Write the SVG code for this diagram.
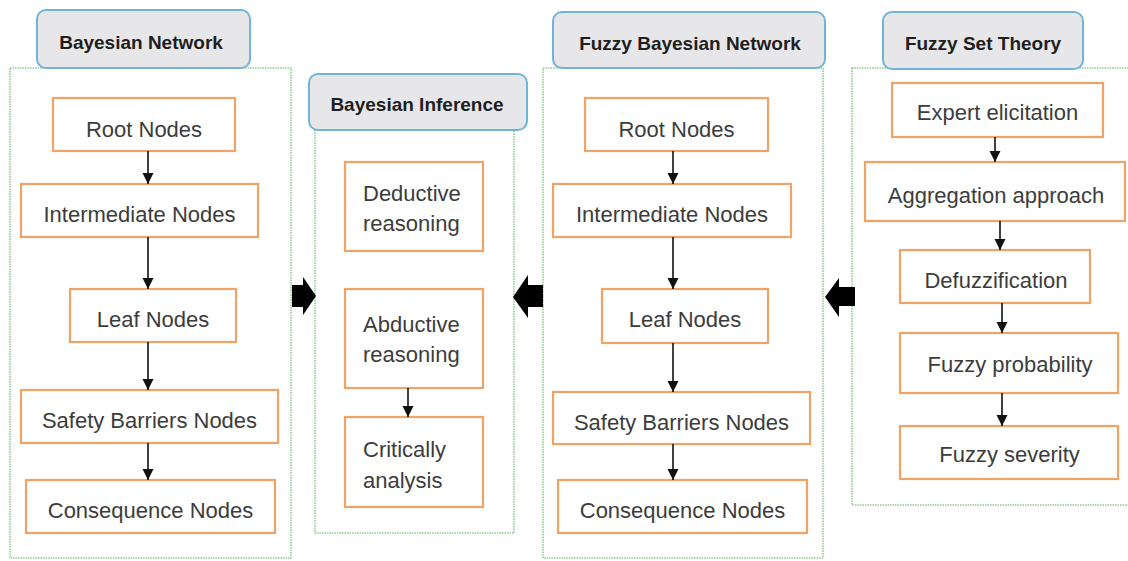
<svg xmlns="http://www.w3.org/2000/svg" width="1128" height="561" viewBox="0 0 1128 561">
<defs>
<style>
.panel{fill:none;stroke:#8fcc8f;stroke-width:1.6;stroke-dasharray:1.5 1}
.hdr{fill:#e7e7e9;stroke:#72b4d8;stroke-width:2}
.ht{font-family:"Liberation Sans",Arial,sans-serif;font-weight:bold;font-size:19px;fill:#1e1e1e;text-anchor:middle}
.node{fill:#ffffff;stroke:#f1a366;stroke-width:2.2}
.nt{font-family:"Liberation Sans",Arial,sans-serif;font-size:22px;fill:#3c3c3c;text-anchor:middle}
.lt{font-family:"Liberation Sans",Arial,sans-serif;font-size:22px;fill:#3c3c3c}
.edge{stroke:#111;stroke-width:1.6;fill:none;marker-end:url(#ah)}
.big{fill:#000}
</style>
<marker id="ah" viewBox="0 0 10 10" refX="10" refY="5" markerWidth="11" markerHeight="12" markerUnits="userSpaceOnUse" orient="auto">
<path d="M0,0 L10,5 L0,10 z" fill="#111"/>
</marker>
</defs>
<rect width="1128" height="561" fill="#ffffff"/>

<g id="panel-bn">
<rect class="panel" x="10" y="68" width="281" height="490"/>
<rect class="hdr" x="37" y="10" width="213" height="58" rx="9"/>
<text class="ht" x="141" y="49">Bayesian Network</text>
</g>
<g id="panel-bi">
<rect class="panel" x="315" y="130" width="199" height="403"/>
<rect class="hdr" x="309" y="74" width="218" height="56" rx="9"/>
<text class="ht" x="417" y="111">Bayesian Inference</text>
</g>
<g id="panel-fbn">
<rect class="panel" x="543" y="68" width="280" height="490"/>
<rect class="hdr" x="553" y="12" width="272" height="56" rx="9"/>
<text class="ht" x="690" y="50">Fuzzy Bayesian Network</text>
</g>
<g id="panel-fst">
<rect class="panel" x="852" y="68" width="290" height="437"/>
<rect class="hdr" x="883" y="12" width="200" height="57" rx="9"/>
<text class="ht" x="983" y="50">Fuzzy Set Theory</text>
</g>

<g id="bn-root"><rect class="node" x="53" y="98" width="182" height="53"/><text class="nt" x="144" y="137">Root Nodes</text></g>
<g id="bn-intermediate"><rect class="node" x="21" y="184" width="237" height="53"/><text class="nt" x="139.5" y="222">Intermediate Nodes</text></g>
<g id="bn-leaf"><rect class="node" x="70" y="289" width="166" height="53"/><text class="nt" x="153" y="327">Leaf Nodes</text></g>
<g id="bn-safety"><rect class="node" x="21" y="390" width="257" height="53"/><text class="nt" x="149.5" y="428">Safety Barriers Nodes</text></g>
<g id="bn-consequence"><rect class="node" x="26" y="480" width="249" height="53"/><text class="nt" x="150.5" y="518">Consequence Nodes</text></g>

<g id="bi-deductive"><rect class="node" x="345" y="162" width="138" height="89"/><text class="lt" x="363" y="201">Deductive</text><text class="lt" x="363" y="231">reasoning</text></g>
<g id="bi-abductive"><rect class="node" x="345" y="289" width="138" height="99"/><text class="lt" x="363" y="332">Abductive</text><text class="lt" x="363" y="362">reasoning</text></g>
<g id="bi-critical"><rect class="node" x="345" y="417" width="138" height="90"/><text class="lt" x="363" y="457">Critically</text><text class="lt" x="363" y="488">analysis</text></g>

<g id="fbn-root"><rect class="node" x="585" y="98" width="183" height="53"/><text class="nt" x="676.5" y="137">Root Nodes</text></g>
<g id="fbn-intermediate"><rect class="node" x="553" y="184" width="238" height="53"/><text class="nt" x="672" y="222">Intermediate Nodes</text></g>
<g id="fbn-leaf"><rect class="node" x="602" y="289" width="166" height="54"/><text class="nt" x="685" y="327">Leaf Nodes</text></g>
<g id="fbn-safety"><rect class="node" x="553" y="392" width="257" height="52"/><text class="nt" x="681.5" y="430">Safety Barriers Nodes</text></g>
<g id="fbn-consequence"><rect class="node" x="558" y="480" width="249" height="53"/><text class="nt" x="682.5" y="518">Consequence Nodes</text></g>

<g id="fst-expert"><rect class="node" x="892" y="83" width="211" height="54"/><text class="nt" x="997.5" y="120">Expert elicitation</text></g>
<g id="fst-aggregation"><rect class="node" x="865" y="162" width="260" height="59"/><text class="nt" x="996" y="203">Aggregation approach</text></g>
<g id="fst-defuzz"><rect class="node" x="900" y="250" width="190" height="53"/><text class="nt" x="996" y="288">Defuzzification</text></g>
<g id="fst-probability"><rect class="node" x="900" y="333" width="218" height="60"/><text class="nt" x="1010" y="372">Fuzzy probability</text></g>
<g id="fst-severity"><rect class="node" x="900" y="426" width="218" height="53"/><text class="nt" x="1009.5" y="462">Fuzzy severity</text></g>

<g id="connectors">
<line class="edge" x1="148" y1="151" x2="148" y2="184"/>
<line class="edge" x1="148" y1="237" x2="148" y2="289"/>
<line class="edge" x1="148" y1="342" x2="148" y2="390"/>
<line class="edge" x1="148" y1="443" x2="148" y2="480"/>
<line class="edge" x1="408" y1="388" x2="408" y2="417"/>
<line class="edge" x1="673" y1="151" x2="673" y2="184"/>
<line class="edge" x1="673" y1="237" x2="673" y2="289"/>
<line class="edge" x1="673" y1="343" x2="673" y2="392"/>
<line class="edge" x1="673" y1="444" x2="673" y2="480"/>
<line class="edge" x1="995" y1="137" x2="995" y2="162"/>
<line class="edge" x1="1000" y1="221" x2="1000" y2="250"/>
<line class="edge" x1="1002" y1="303" x2="1002" y2="333"/>
<line class="edge" x1="1002" y1="393" x2="1002" y2="426"/>
<path class="big" d="M292,285 L303,285 L303,277 L316,296 L303,315 L303,307 L292,307 z"/>
<path class="big" d="M543,285 L528,285 L528,275 L513,297 L528,318 L528,307 L543,307 z"/>
<path class="big" d="M855,287 L839,287 L839,278 L825,297 L839,317 L839,306 L855,306 z"/>
</g>
</svg>
